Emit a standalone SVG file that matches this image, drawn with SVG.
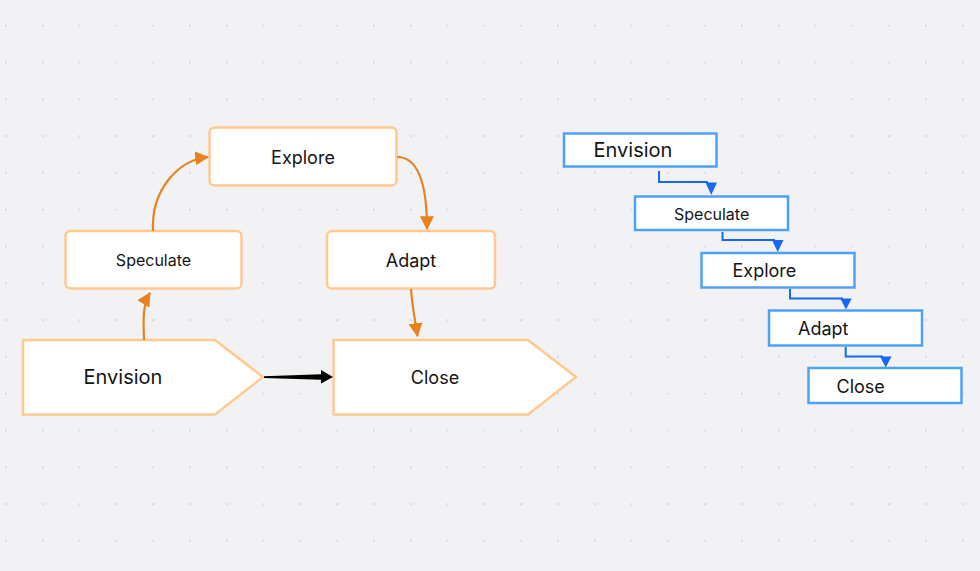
<svg xmlns="http://www.w3.org/2000/svg" width="980" height="571" viewBox="0 0 980 571">
  <defs>
    <pattern id="dots" x="5" y="24.7" width="36.8" height="36.8" patternUnits="userSpaceOnUse">
      <rect x="0" y="0" width="2" height="2" fill="#d9d9dd"/>
    </pattern>
    <marker id="arrOrange" markerUnits="userSpaceOnUse" markerWidth="14" markerHeight="14" viewBox="0 0 12 12" refX="11" refY="6" orient="auto">
      <path d="M0,0 L12,6 L0,12 Z" fill="#e8821e"/>
    </marker>
    <style>
      .bg { fill: #f2f2f4; }
      .onode { fill: #ffffff; stroke: #ffc990; stroke-width: 2.5; }
      .bnode { fill: #ffffff; stroke: #4fa1f6; stroke-width: 2.5; }
      .t { font-family: Inter, "Liberation Sans", sans-serif; fill: #141414; }
      .oedge { fill: none; stroke: #e8821e; stroke-width: 2.2; }
      .bedge { fill: none; stroke: #1768f5; stroke-width: 2; }
      .bhead { fill: #1768f5; }
    </style>
  </defs>
  <rect class="bg" x="0" y="0" width="980" height="571"/>
  <rect fill="url(#dots)" x="0" y="0" width="980" height="571"/>

  <g id="left-explore">
    <rect class="onode" x="209.5" y="127.5" width="187" height="58" rx="5"/>
    <text class="t" x="303" y="164" font-size="18" text-anchor="middle">Explore</text>
  </g>
  <g id="left-speculate">
    <rect class="onode" x="65.5" y="231" width="176" height="57.5" rx="5"/>
    <text class="t" x="153.5" y="266" font-size="16" text-anchor="middle">Speculate</text>
  </g>
  <g id="left-adapt">
    <rect class="onode" x="327" y="231" width="168" height="57.5" rx="5"/>
    <text class="t" x="411" y="266.5" font-size="18" text-anchor="middle">Adapt</text>
  </g>
  <g id="left-envision">
    <polygon class="onode" points="23,340 215,340 263,377 215,414.5 23,414.5"/>
    <text class="t" x="123" y="384" font-size="20" text-anchor="middle">Envision</text>
  </g>
  <g id="left-close">
    <polygon class="onode" points="333.5,340 528,340 576,377 528,414.5 333.5,414.5"/>
    <text class="t" x="435" y="383.5" font-size="18" text-anchor="middle">Close</text>
  </g>

  <g id="left-connectors">
    <path class="oedge" d="M144,340 C143.5,322 142,306 150,293" marker-end="url(#arrOrange)"/>
    <path class="oedge" d="M153,231 C151,190 178,160 208,157" marker-end="url(#arrOrange)"/>
    <path class="oedge" d="M397,157 C420,157 427,190 427,229" marker-end="url(#arrOrange)"/>
    <path class="oedge" d="M411,289 C412,305 415,320 417.5,336" marker-end="url(#arrOrange)"/>
    <polygon points="264,376.2 321,374.3 321,370 333,377 321,383.5 321,379.8 264,378" fill="#000000"/>
  </g>

  <g id="right-envision">
    <rect class="bnode" x="564" y="133.5" width="152.5" height="33"/>
    <text class="t" x="593.5" y="157" font-size="20">Envision</text>
  </g>
  <g id="right-speculate">
    <rect class="bnode" x="635" y="196.5" width="153" height="33.5"/>
    <text class="t" x="674" y="220" font-size="16">Speculate</text>
  </g>
  <g id="right-explore">
    <rect class="bnode" x="701.5" y="253" width="153" height="34.5"/>
    <text class="t" x="732.5" y="277" font-size="18">Explore</text>
  </g>
  <g id="right-adapt">
    <rect class="bnode" x="769" y="310.5" width="153" height="35"/>
    <text class="t" x="798" y="335" font-size="18">Adapt</text>
  </g>
  <g id="right-close">
    <rect class="bnode" x="808.5" y="368" width="153" height="35"/>
    <text class="t" x="836.5" y="393" font-size="18">Close</text>
  </g>

  <g id="right-connectors">
    <path class="bedge" d="M659,171 L659,182 L708,182"/>
    <polygon class="bhead" points="705.5,182.5 717,182.5 711.2,195"/>
    <path class="bedge" d="M722.5,232 L722.5,240 L775,240"/>
    <polygon class="bhead" points="772,240 783.5,240 777.7,252"/>
    <path class="bedge" d="M790,289 L790,298.5 L843,298.5"/>
    <polygon class="bhead" points="840.3,298.5 851.7,298.5 846,309.5"/>
    <path class="bedge" d="M845.7,347 L845.7,356.5 L883,356.5"/>
    <polygon class="bhead" points="880,356.5 891.5,356.5 885.7,367.5"/>
  </g>
</svg>
